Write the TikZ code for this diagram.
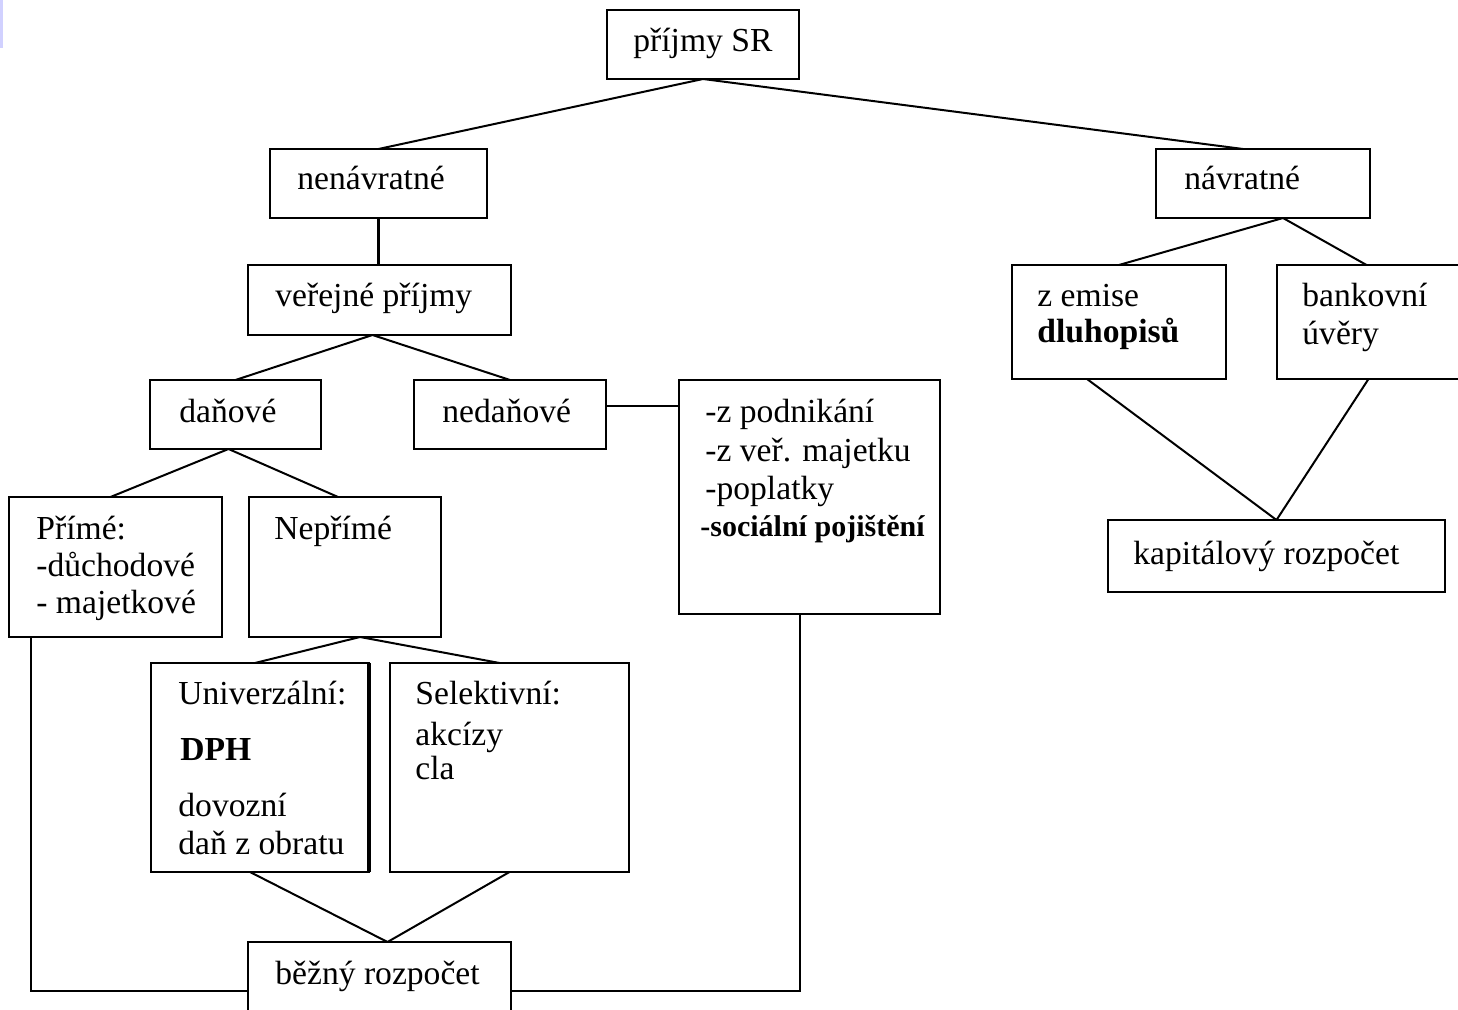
\documentclass[tikz,border=0pt]{standalone}
\usepackage{fontspec}
\setmainfont{Liberation Serif}
\usetikzlibrary{calc}
\tikzset{
  box/.style={draw, line width=1pt, rectangle, inner sep=0pt, outer sep=0pt},
  lbl/.style={anchor=west, inner sep=0pt, font=\fontsize{16.8}{18}\selectfont, text height=1.5ex, text depth=.25ex},
  blbl/.style={lbl, font=\fontsize{15}{16}\selectfont\bfseries},
  conn/.style={line width=1pt},
}
\newcommand\bx[5]{\node[box, minimum width=#4*0.5pt, minimum height=#5*0.5pt] (#1) at (#2,#3) {};}
\begin{document}
\begin{tikzpicture}[x=0.5pt, y=-0.5pt]
\useasboundingbox (0,0) rectangle (1458,1010);
\clip (0,0) rectangle (1458,1010);
\fill[blue!18] (0,0) rectangle (3,48);
% boxes
\bx{psr}{703}{44.5}{192}{69}
\bx{nen}{378.5}{183.5}{217}{69}
\bx{nav}{1263}{183.5}{214}{69}
\bx{vp}{379.5}{300}{263}{70}
\bx{dan}{235.5}{414.5}{171}{69}
\bx{ned}{510}{414.5}{192}{69}
\bx{lst}{809.5}{497}{261}{234}
\bx{pri}{115.5}{567}{213}{140}
\bx{nep}{345}{567}{192}{140}
\node[box, minimum width=218*0.5pt, minimum height=209*0.5pt] (uni) at (260,767.5) {};
\draw[line width=1.8pt] (uni.north east) -- (uni.south east);
\bx{sel}{509.5}{767.5}{239}{209}
\bx{bez}{379.5}{991}{263}{98}
\bx{zem}{1119}{322}{214}{114}
\bx{ban}{1388.5}{322}{223}{114}
\bx{kap}{1276.5}{556}{337}{72}
% texts
\node[lbl] (t-psr) at (633,46) {příjmy SR};
\node[lbl] (t-nen) at (297,184) {nenávratné};
\node[lbl] (t-nav) at (1184,184) {návratné};
\node[lbl] (t-vp) at (275,301) {veřejné příjmy};
\node[lbl] (t-dan) at (179,417) {daňové};
\node[lbl] (t-ned) at (442,417) {nedaňové};
\node[lbl] (t-l1) at (705,417) {-z podnikání};
\node[lbl] (t-l2) at (705,456) {-z veř. majetku};
\node[lbl] (t-l3) at (705,494) {-poplatky};
\node[blbl] (t-l4) at (700,531) {-sociální pojištění};
\node[lbl] (t-p1) at (36,534) {Přímé:};
\node[lbl] (t-p2) at (36,571) {-důchodové};
\node[lbl] (t-p3) at (36,608) {- majetkové};
\node[lbl] (t-nep) at (274,534) {Nepřímé};
\node[lbl] (t-u1) at (178,699) {Univerzální:};
\node[lbl, font=\fontsize{16.8}{18}\selectfont\bfseries] (t-u2) at (180,755) {DPH};
\node[lbl] (t-u3) at (178,811) {dovozní};
\node[lbl] (t-u4) at (178,849) {daň z obratu};
\node[lbl] (t-s1) at (415,699) {Selektivní:};
\node[lbl] (t-s2) at (415,740) {akcízy};
\node[lbl] (t-s3) at (415,774) {cla};
\node[lbl] (t-bez) at (275,979) {běžný rozpočet};
\node[lbl] (t-z1) at (1037,301) {z emise};
\node[lbl, font=\fontsize{16.8}{18}\selectfont\bfseries] (t-z2) at (1037,337) {dluhopisů};
\node[lbl] (t-b1) at (1302,301) {bankovní};
\node[lbl] (t-b2) at (1302,339) {úvěry};
\node[lbl] (t-kap) at (1133,559) {kapitálový rozpočet};
% connectors
\draw[conn] (psr.south) -- (nen.north);
\draw[conn] (psr.south) -- ($(nav.north)+(-20,0)$);
\draw[line width=1.5pt] (nen.south) -- (nen.south |- vp.north);
\draw[conn] ($(vp.south)+(-7,0)$) -- (dan.north);
\draw[conn] ($(vp.south)+(-7,0)$) -- (ned.north);
\draw[conn] ($(ned.east)+(0,-8)$) coordinate (nq) -- (nq -| lst.west);
\draw[conn] ($(dan.south)+(-7,0)$) -- ($(pri.north)+(-5,0)$);
\draw[conn] ($(dan.south)+(-7,0)$) -- ($(nep.north)+(-7,0)$);
\draw[conn] ($(nep.south)+(15,0)$) -- ($(uni.north)+(-5,0)$);
\draw[conn] ($(nep.south)+(15,0)$) -- ($(sel.north)+(-10,0)$);
\draw[conn] ($(uni.south)+(-10,0)$) -- ($(bez.north)+(8,0)$);
\draw[conn] (sel.south) -- ($(bez.north)+(8,0)$);
\draw[conn] ($(pri.south west)+(22,0)$) |- (bez.west);
\draw[conn] ($(lst.south)+(-10,0)$) |- (bez.east);
\draw[conn] ($(nav.south)+(20,0)$) -- (zem.north);
\draw[conn] ($(nav.south)+(20,0)$) -- ($(ban.north)+(-22,0)$);
\draw[conn] ($(zem.south)+(-32,0)$) -- (kap.north);
\draw[conn] ($(ban.south)+(-20,0)$) -- (kap.north);
\end{tikzpicture}
\end{document}
